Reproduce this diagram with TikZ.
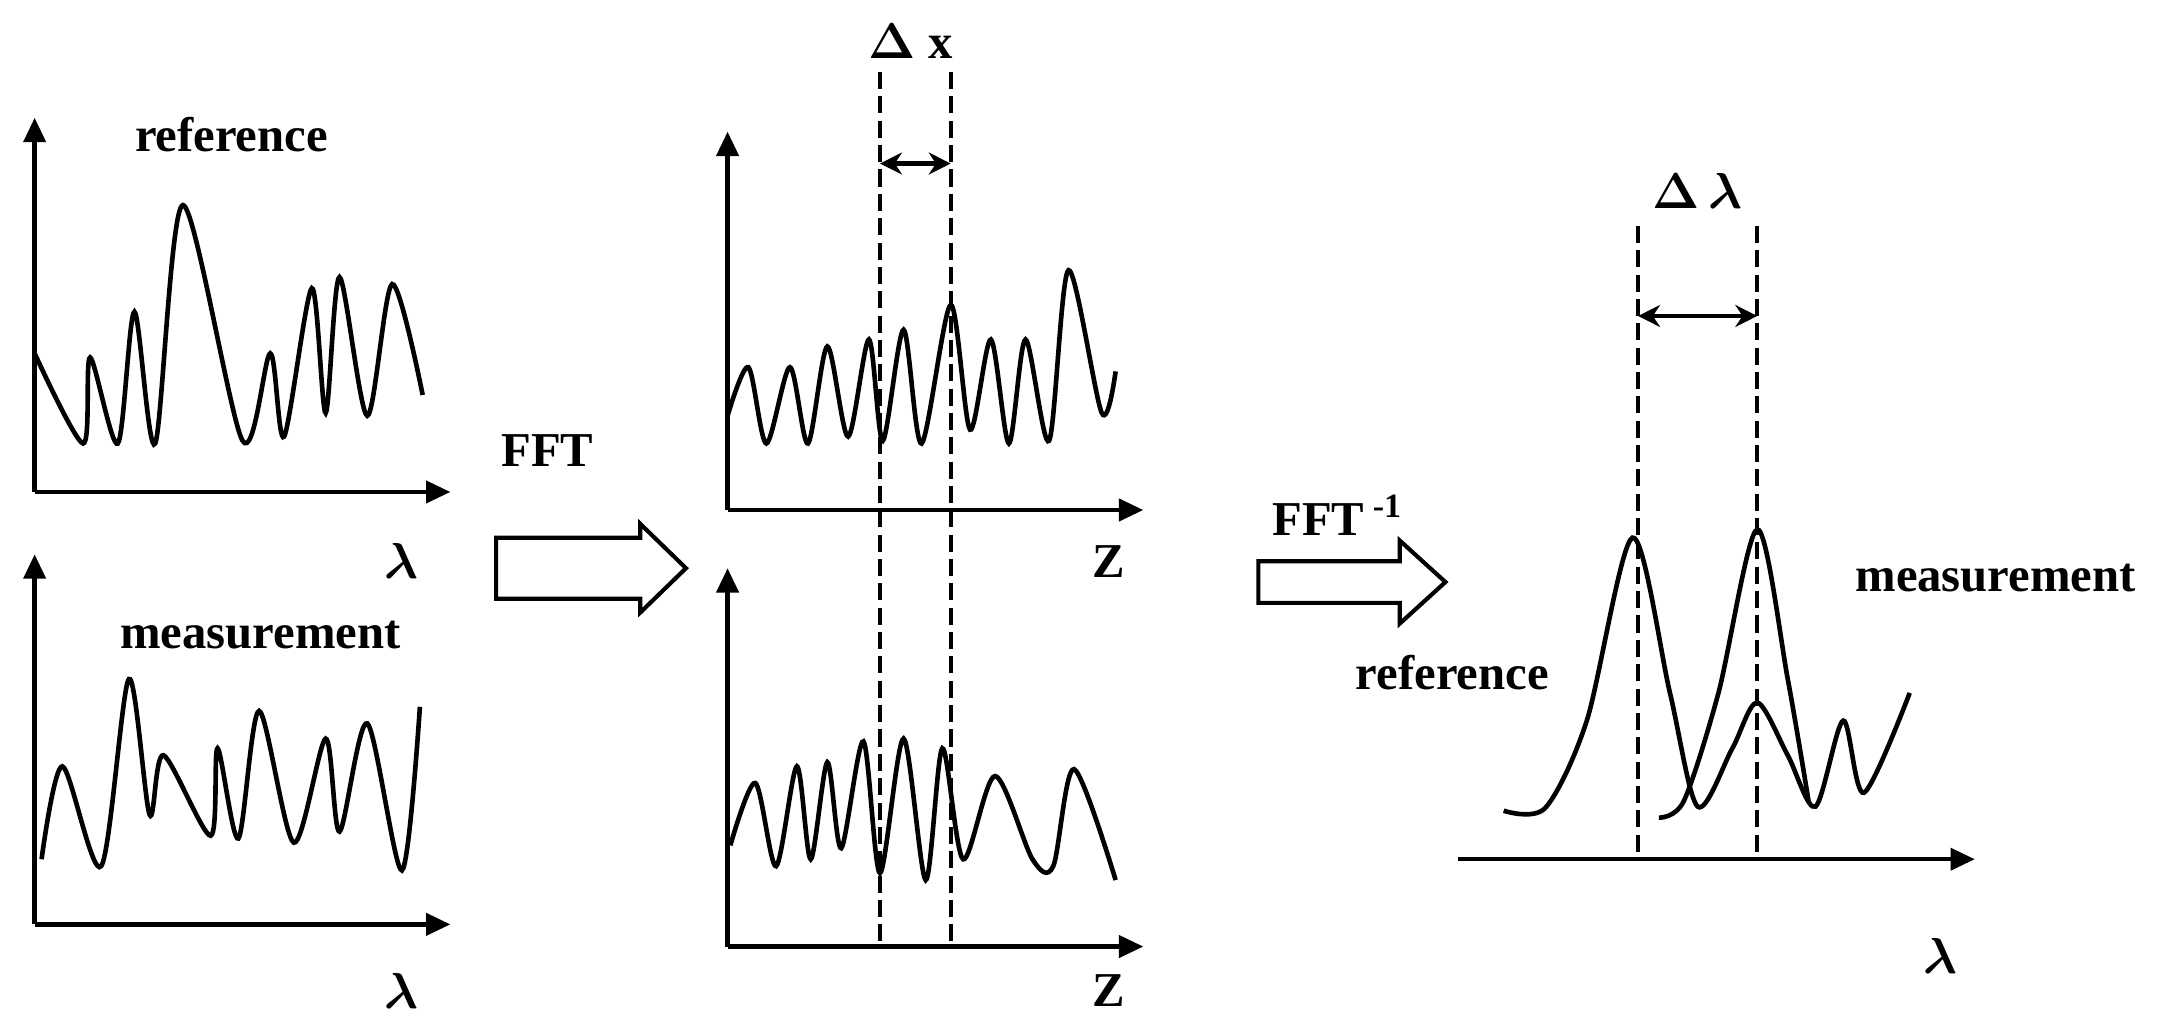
\documentclass[tikz,border=0pt]{standalone}
\usepackage{fontspec}
\usepackage{bm}
\setmainfont{Liberation Serif}
\usetikzlibrary{arrows.meta}
\begin{document}
\begin{tikzpicture}[x=0.02cm,y=-0.02cm,
  ax/.style={line width=1.8pt,-{Stealth[length=10pt,width=9pt,inset=0pt]}},
  crv/.style={line width=1.9pt,smooth,tension=0.5},
  dsh/.style={line width=1.8pt,dash pattern=on 7pt off 3pt},
  dbl/.style={line width=1.9pt,{Stealth[length=9pt,width=9pt]}-{Stealth[length=9pt,width=9pt]}},
  blk/.style={line width=1.7pt,fill=white},
  lbl/.style={font=\fontsize{20}{24}\selectfont\bfseries}]
\useasboundingbox (0,0) rectangle (1568,740);
% left top
\coordinate (o1) at (25,355);
\draw[ax] (o1) -- (25,85);
\draw[ax] (o1) -- (325,355);
\draw[crv] plot coordinates {(25,255)(60,320)(65,258)(85,320)(97,225)(112,320)(132,148)(175,318)(195,255)(205,315)(225,208)(235,298)(245,200)(265,300)(283,205)(305,285)};
\node[lbl] (t1) at (167,97) {reference};
\node[lbl] (l1) at (290,405) {$\bm\lambda$};
% left bottom
\coordinate (o2) at (25,667);
\draw[ax] (o2) -- (25,400);
\draw[ax] (o2) -- (325,667);
\draw[crv] plot coordinates {(30,620)(45,553)(73,625)(93,490)(108,588)(118,545)(152,603)(157,540)(172,605)(187,513)(212,608)(235,533)(245,600)(265,522)(290,628)(303,510)};
\node[lbl] (t2) at (188,458) {measurement};
\node[lbl] (l2) at (290,715) {$\bm\lambda$};
% FFT arrow
\draw[blk] (358,388) -- (462,388) -- (462,378) -- (495,410) -- (462,442) -- (462,432) -- (358,432) -- cycle;
\node[lbl] (f1) at (395,325) {FFT};
% middle top
\coordinate (o3) at (525,368);
\draw[ax] (o3) -- (525,95);
\draw[ax] (o3) -- (825,368);
\draw[crv] plot coordinates {(525,300)(540,265)(553,320)(570,265)(583,320)(597,250)(612,315)(627,245)(637,318)(652,238)(665,320)(686,220)(700,310)(715,245)(728,320)(740,245)(757,318)(771,195)(795,298)(805,268)};
\node[lbl] (z1) at (800,405) {Z};
% middle bottom
\coordinate (o4) at (525,683);
\draw[ax] (o4) -- (525,410);
\draw[ax] (o4) -- (825,683);
\draw[crv] plot coordinates {(527,610)(545,565)(560,625)(575,553)(585,620)(597,550)(607,612)(623,535)(635,630)(652,533)(668,635)(680,540)(695,620)(718,560)(745,620)(760,625)(775,555)(805,635)};
\node[lbl] (z2) at (800,715) {Z};
% dashed
\coordinate (d1a) at (635,52); \coordinate (d1b) at (635,683);
\coordinate (d2a) at (686,52); \coordinate (d2b) at (686,683);
\draw[dsh] (d1a) -- (d1b);
\draw[dsh] (d2a) -- (d2b);
\coordinate (a1) at (635,118); \coordinate (a2) at (686,118);
\draw[dbl] (a1) -- (a2);
\node[lbl] (dx) at (657,30) {$\bm\Delta$ x};
% FFT^-1 arrow
\draw[blk] (908,405) -- (1010,405) -- (1010,390) -- (1043,420) -- (1010,450) -- (1010,435) -- (908,435) -- cycle;
\node[lbl] (f2) at (965,372) {FFT\textsuperscript{ -1}};
% right
\coordinate (o5) at (1052,620);
\draw[ax] (o5) -- (1425,620);
\coordinate (e1a) at (1182,163); \coordinate (e1b) at (1182,620);
\coordinate (e2a) at (1268,163); \coordinate (e2b) at (1268,620);
\draw[dsh] (e1a) -- (e1b);
\draw[dsh] (e2a) -- (e2b);
\coordinate (b1) at (1182,228); \coordinate (b2) at (1268,228);
\draw[dbl] (b1) -- (b2);
\node[lbl] (dl) at (1225,138) {$\bm\Delta\,\bm\lambda$};
\draw[crv] plot coordinates {(1085,585)(1115,583)(1145,520)(1178,388)(1205,500)(1225,582)(1250,540)(1268,507)(1290,545)(1310,582)(1330,520)(1345,572)(1378,500)};
\draw[crv] plot coordinates {(1197,590)(1215,578)(1240,500)(1268,382)(1290,490)(1305,578)};
\node[lbl] (r1) at (1048,485) {reference};
\node[lbl] (m1) at (1440,417) {measurement};
\node[lbl] (l3) at (1400,690) {$\bm\lambda$};
\end{tikzpicture}
\end{document}
